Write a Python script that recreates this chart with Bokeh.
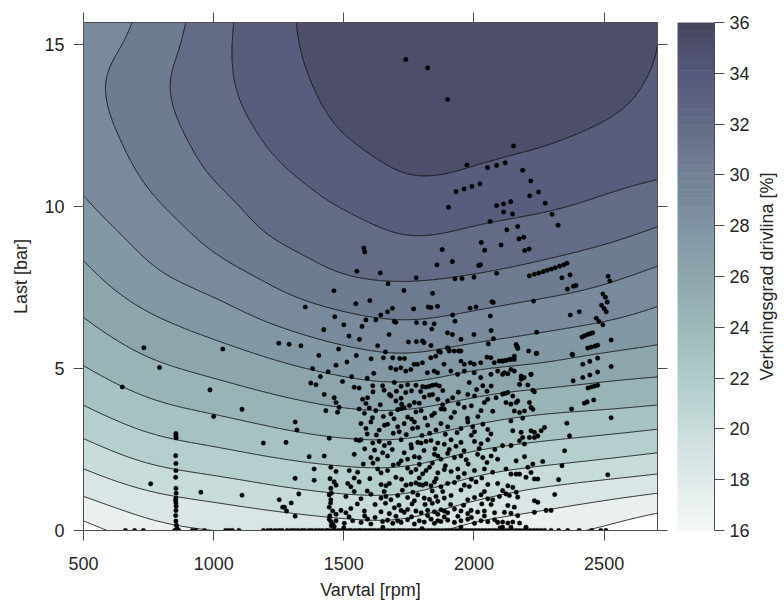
import numpy as np
from bokeh.plotting import figure
from bokeh.layouts import row
from bokeh.models import LinearAxis, FixedTicker, Range1d
from bokeh.core.properties import value
from bokeh.embed import file_html
from bokeh.resources import INLINE

FONT = "Liberation Sans"
INK = "#262626"
AXIS = "#4d4d4d"

# ---------------------------------------------------------------------------
# Driveline efficiency map [%] on a node table (speed x load)
# ---------------------------------------------------------------------------
rpm_nodes = [500, 750, 1000, 1250, 1500, 1750, 2000, 2250, 2500, 2750]
load_nodes = [0, 1, 2, 3, 4, 5, 6, 7, 8, 9, 10, 11, 12, 13, 14, 15, 16]

# one list per speed node, load 0 ... 16 bar
eff_500 = [16.4, 18.4, 20.16, 21.75, 23.18, 24.4, 25.44, 26.39, 27.24, 28.03, 28.78, 29.35, 29.7, 29.95, 30.0, 29.8, 29.6]
eff_750 = [17.88, 19.6, 21.38, 22.97, 24.37, 25.6, 26.72, 27.77, 28.75, 29.51, 30.19, 30.72, 31.1, 31.4, 31.45, 31.1, 30.8]
eff_1000 = [18.5, 20.23, 22.03, 23.63, 25.08, 26.38, 27.62, 28.77, 29.92, 30.83, 31.48, 32.1, 32.55, 32.9, 33.05, 33.0, 32.85]
eff_1250 = [18.84, 20.81, 22.61, 24.26, 25.76, 27.18, 28.58, 29.95, 31.12, 32.07, 32.72, 33.28, 33.78, 34.15, 34.42, 34.58, 34.65]
eff_1500 = [19.23, 21.26, 23.03, 24.75, 26.33, 27.89, 29.43, 30.83, 32.08, 32.83, 33.57, 34.22, 34.87, 35.3, 35.55, 35.7, 35.75]
eff_1750 = [19.2, 21.2, 23.0, 24.75, 26.44, 28.21, 29.79, 31.15, 32.36, 33.4, 34.21, 35.0, 35.5, 35.8, 36.0, 36.05, 36.05]
eff_2000 = [17.92, 20.2, 22.16, 24.03, 25.82, 27.62, 29.35, 30.8, 32.1, 33.14, 34.03, 34.84, 35.35, 35.65, 35.85, 35.95, 36.0]
eff_2250 = [17.4, 19.31, 21.54, 23.47, 25.29, 27.2, 28.85, 30.3, 31.63, 32.72, 33.69, 34.46, 35.1, 35.45, 35.65, 35.75, 35.75]
eff_2500 = [16.75, 18.67, 21.04, 23.1, 24.99, 26.69, 28.33, 29.75, 31.0, 32.2, 33.2, 33.98, 34.66, 35.15, 35.4, 35.55, 35.6]
eff_2750 = [15.5, 18.0, 20.52, 22.66, 24.68, 26.36, 27.76, 28.94, 30.14, 31.41, 32.57, 33.56, 34.1, 34.5, 34.75, 34.85, 34.85]
eff_columns = [eff_500, eff_750, eff_1000, eff_1250, eff_1500,
               eff_1750, eff_2000, eff_2250, eff_2500, eff_2750]

contour_levels = [17.0, 18.5, 20.0, 21.5, 23.0, 24.5, 26.0, 27.5, 29.0, 30.5, 32.0, 33.5, 35.0]

# colour scale of the efficiency axis
cmap_values = [16, 18, 20, 22, 24, 26, 28, 30, 32, 34, 36]
cmap_hex = ["#f3f7f7", "#e0eaea", "#c8dcdb", "#aecbca", "#9db9ba", "#8da5ad",
            "#8093a2", "#728196", "#636b87", "#55587a", "#45445f"]

x_ticks = [500, 1000, 1500, 2000, 2500]
y_ticks = [0, 5, 10, 15]
cb_ticks = [16, 18, 20, 22, 24, 26, 28, 30, 32, 34, 36]
cb_title = "Verkningsgrad drivlina [%]"

# ---------------------------------------------------------------------------
# Logged operating points (speed [rpm], load [bar])
# ---------------------------------------------------------------------------
idle_rpm = [855, 855, 856, 854, 855, 855, 854, 855, 856, 855, 854, 855, 856, 855, 854, 855, 857, 860]
idle_load = [2.99, 2.92, 2.86, 2.31, 2.07, 1.85, 1.64, 1.3, 1.15, 1.0, 0.93, 0.85, 0.75, 0.62, 0.46, 0.29, 0.16, 0.05]

motoring_rpm = [661, 696, 730, 850, 858, 866, 918, 931, 965, 1046, 1059, 1072, 1097, 1191, 1208, 1220,
                1236, 1251, 1263, 1282, 1297, 1310, 1324, 1339, 1350, 1366, 1377, 1392, 1405, 1418, 1433,
                1441, 1455, 1466, 1480, 1492, 1505, 1519, 1528, 1543, 1556, 1567, 1581, 1594, 1606, 1619,
                1633, 1645, 1656, 1670, 1684, 1695, 1709, 1720, 1733, 1747, 1760, 1772, 1786, 1798, 1811,
                1825, 1838, 1850, 1863, 1877, 1890, 1902, 1915, 1929, 1941, 1954, 1968, 1980, 1993, 2006,
                2019, 2032, 2045, 2058, 2071, 2083, 2097, 2110, 2124, 2137, 2150, 2163, 2176, 2190, 2203,
                2217, 2231, 2244, 2258, 2272, 2296, 2325, 2360, 2404, 2452, 2487, 2507]
motoring_load = [0.0] * len(motoring_rpm)

pts_left = [(649, 4.43), (732, 5.64), (792, 5.03), (986, 4.34), (1000, 3.52), (1035, 5.6), (1109, 3.74),
            (758, 1.44), (951, 1.18), (1109, 1.09), (1191, 2.7), (1278, 2.72), (1313, 3.35), (1320, 3.1),
            (1252, 0.95), (1265, 0.72), (1272, 0.72), (1280, 0.6), (1298, 0.85), (1313, 1.61), (1327, 1.13),
            (1313, 0.44), (1250, 5.78)]

pts_low = [
    (1373, 4.55), (1393, 4.5), (1495, 4.6), (1540, 4.42), (1559, 4.4), (1611, 4.47), (1649, 4.47), (1694, 4.57),
    (1720, 4.45), (1745, 4.5), (1777, 4.48), (1803, 4.44), (1816, 4.43), (1829, 4.45), (1841, 4.48), (1854, 4.5),
    (1867, 4.46), (1982, 4.57), (2034, 4.47), (2066, 4.46),
    (1425, 4.2), (1463, 4.1), (1470, 3.95), (1572, 4.05), (1591, 4.1), (1675, 4.2), (1681, 4.15), (1700, 4.0),
    (1720, 4.08), (1771, 3.95), (1809, 4.12), (1829, 4.18), (1841, 4.2), (1861, 4.05), (1899, 4.0), (1918, 4.1),
    (1976, 4.2), (2002, 4.15), (2053, 4.05), (2085, 4.1),
    (1431, 3.7), (1476, 3.65), (1482, 3.8), (1559, 3.75), (1579, 3.62), (1598, 3.78), (1623, 3.7), (1681, 3.6),
    (1707, 3.73), (1720, 3.76), (1732, 3.79), (1777, 3.66), (1797, 3.7), (1848, 3.62), (1873, 3.75), (1886, 3.74),
    (1925, 3.65), (1963, 3.8), (2027, 3.7), (2072, 3.68),
    (1566, 3.3), (1585, 3.15), (1604, 3.35), (1636, 3.1), (1656, 3.25), (1668, 3.28), (1707, 3.2), (1713, 3.05),
    (1732, 3.3), (1764, 3.15), (1771, 3.35), (1784, 3.18), (1822, 3.25), (1854, 3.1), (1873, 3.3), (1899, 3.2),
    (1950, 3.15), (1976, 3.35), (1995, 3.2), (2002, 3.05), (2034, 3.28), (2053, 3.12),
    (1444, 2.85), (1547, 2.8), (1559, 2.78), (1566, 2.8), (1611, 2.7), (1636, 2.75), (1656, 2.62), (1675, 2.7),
    (1720, 2.8), (1758, 2.65), (1784, 2.72), (1797, 2.7), (1816, 2.75), (1835, 2.78), (1861, 2.7), (1886, 2.66),
    (1912, 2.8), (1931, 2.6), (1950, 2.72), (2002, 2.75), (2027, 2.68), (2053, 2.8),
    (1367, 2.28), (1425, 2.3), (1540, 2.35), (1604, 2.25), (1630, 2.2), (1649, 2.4), (1668, 2.3), (1720, 2.15),
    (1732, 2.4), (1745, 2.2), (1771, 2.28), (1790, 2.25), (1848, 2.35), (1861, 2.3), (1873, 2.2), (1899, 2.38),
    (1925, 2.25), (1950, 2.3), (1970, 2.18), (2014, 2.35), (2034, 2.25), (2066, 2.3), (2091, 2.2),
    (1386, 1.9), (1450, 1.95), (1470, 1.82), (1521, 1.85), (1553, 1.8), (1630, 1.9), (1643, 1.78), (1668, 1.85),
    (1745, 1.92), (1758, 1.8), (1777, 1.88), (1803, 1.75), (1816, 1.85), (1829, 1.95), (1861, 1.78), (1886, 1.88),
    (1912, 1.82), (1938, 1.9), (1963, 1.76), (2002, 1.85), (2040, 1.9), (2072, 1.8),
    (1386, 1.55), (1463, 1.5), (1470, 1.4), (1515, 1.45), (1527, 1.35), (1559, 1.5), (1643, 1.42), (1662, 1.38),
    (1675, 1.45), (1739, 1.4), (1758, 1.43), (1777, 1.47), (1790, 1.42), (1803, 1.4), (1816, 1.44), (1835, 1.38),
    (1848, 1.5), (1873, 1.35), (1899, 1.45), (1925, 1.48), (1963, 1.4), (1982, 1.36), (2008, 1.5), (2053, 1.42),
    (2091, 1.45),
    (1444, 1.1), (1450, 0.95), (1508, 1.05), (1566, 0.98), (1604, 1.12), (1643, 1.0), (1662, 1.05), (1681, 0.95),
    (1707, 1.08), (1745, 1.02), (1771, 0.92), (1784, 1.1), (1809, 1.0), (1829, 0.96), (1854, 1.05), (1861, 0.9),
    (1886, 1.0), (1912, 1.08), (1976, 0.95), (2002, 1.02), (2027, 1.1), (2053, 0.98), (2072, 0.95), (2098, 1.05),
    (1444, 0.72), (1457, 0.6), (1470, 0.5), (1489, 0.62), (1508, 0.55), (1527, 0.68), (1579, 0.6), (1643, 0.58),
    (1675, 0.52), (1694, 0.7), (1720, 0.62), (1732, 0.56), (1745, 0.65), (1777, 0.6), (1797, 0.55), (1822, 0.62),
    (1848, 0.58), (1861, 0.5), (1873, 0.64), (1886, 0.6), (1899, 0.55), (1925, 0.66), (1950, 0.6), (1976, 0.52),
    (1989, 0.62), (2014, 0.57), (2040, 0.6), (2079, 0.55),
    (1444, 0.35), (1450, 0.28), (1457, 0.2), (1463, 0.12), (1470, 0.3), (1502, 0.22), (1534, 0.3), (1566, 0.25),
    (1591, 0.35), (1604, 0.2), (1649, 0.28), (1668, 0.32), (1688, 0.22), (1707, 0.3), (1720, 0.25), (1745, 0.33),
    (1771, 0.2), (1790, 0.3), (1809, 0.26), (1835, 0.35), (1848, 0.22), (1861, 0.3), (1873, 0.28), (1899, 0.32),
    (1925, 0.25), (1950, 0.3), (1976, 0.35), (2002, 0.22), (2027, 0.3), (2053, 0.27), (2079, 0.33), (2091, 0.25),
    (1447, 1.6), (1450, 1.3), (1452, 1.15), (1449, 0.85), (1446, 0.45), (1452, 0.15),
    (1500, 0.08), (1650, 0.1), (1800, 0.06), (1950, 0.1), (2100, 0.08), (2200, 0.1)]

# second pass through the densest part of the cloud
pts_dense = [
    (1612, 4.28), (1655, 4.33), (1702, 4.3), (1738, 4.26), (1760, 4.31), (1795, 4.29), (1880, 4.32), (1940, 4.27),
    (2010, 4.35), (2050, 4.3), (1585, 3.92), (1640, 3.88), (1722, 3.9), (1752, 3.86), (1790, 3.93), (1880, 3.88),
    (1940, 3.91), (1990, 3.85), (2040, 3.95), (1610, 3.48), (1652, 3.52), (1693, 3.45), (1745, 3.5), (1760, 3.44),
    (1812, 3.47), (1838, 3.55), (1912, 3.49), (1975, 3.46), (2015, 3.52), (1590, 2.98), (1625, 2.95), (1690, 3.0),
    (1740, 2.96), (1800, 2.93), (1830, 3.0), (1890, 2.97), (1935, 3.02), (1990, 2.94), (2065, 2.98), (1580, 2.52),
    (1618, 2.48), (1686, 2.5), (1760, 2.55), (1808, 2.47), (1850, 2.52), (1905, 2.5), (1962, 2.46), (2020, 2.53),
    (2080, 2.5), (1575, 2.05), (1612, 2.08), (1690, 2.02), (1710, 2.06), (1790, 2.04), (1840, 2.08), (1890, 2.0),
    (1978, 2.05), (2050, 2.1), (1540, 1.62), (1600, 1.6), (1700, 1.64), (1722, 1.58), (1790, 1.62), (1855, 1.6),
    (1940, 1.64), (1990, 1.58), (2030, 1.62), (1540, 1.2), (1590, 1.22), (1655, 1.2), (1725, 1.24), (1765, 1.18),
    (1840, 1.22), (1880, 1.2), (1950, 1.25), (2040, 1.2), (1552, 0.82), (1620, 0.8), (1660, 0.84), (1712, 0.78),
    (1762, 0.82), (1812, 0.8), (1840, 0.84), (1910, 0.8), (1960, 0.78), (2030, 0.82), (2066, 0.8), (1520, 0.42),
    (1580, 0.45), (1620, 0.4), (1700, 0.44), (1760, 0.42), (1822, 0.46), (1886, 0.42), (1938, 0.44), (1990, 0.4),
    (2040, 0.45)]

pts_upper_band = [
    (2162, 5.74), (2168, 5.64), (2155, 5.38), (2142, 5.28), (2123, 5.25), (2110, 5.23), (2239, 5.46),
    (2110, 4.82), (2130, 4.84), (2155, 4.92), (2187, 4.72), (2181, 4.67), (2219, 4.82), (2175, 4.51),
    (2207, 4.49), (2226, 4.33), (2232, 4.28), (2130, 4.26), (2119, 4.23), (2110, 4.21), (2149, 4.15),
    (2168, 4.0), (2123, 3.95), (2142, 3.9), (2162, 3.95), (2213, 3.95), (2155, 3.69), (2175, 3.64),
    (2194, 3.69), (2219, 3.8), (2226, 3.74), (2142, 3.38), (2187, 3.47), (2149, 3.08), (2181, 3.03),
    (2219, 3.08), (2232, 3.03), (2258, 3.08), (2271, 3.18), (2110, 2.62), (2142, 2.62), (2175, 2.77),
    (2187, 2.87), (2194, 2.67), (2213, 2.87), (2232, 2.87), (2245, 2.92), (2162, 2.15), (2194, 2.28),
    (2207, 1.95), (2226, 2.05), (2264, 2.13), (2123, 1.9), (2142, 1.74), (2162, 1.74), (2175, 1.74),
    (2200, 1.64), (2219, 1.79), (2232, 1.59), (2245, 1.59), (2130, 1.38), (2149, 1.33), (2110, 1.23),
    (2123, 1.13), (2136, 1.08), (2162, 1.18), (2168, 1.03), (2232, 0.92), (2245, 0.87), (2277, 0.62),
    (2296, 0.62), (2130, 0.77), (2155, 0.72), (2117, 0.56), (2142, 0.53), (2232, 0.56), (2168, 0.46),
    (2110, 0.26), (2130, 0.23), (2149, 0.26), (2175, 0.23), (2110, 0.1), (2142, 0.1)]

pts_mid = [
    (2370, 6.65), (2405, 6.75), (1642, 6.65), (1668, 6.75), (1687, 6.86), (1768, 6.84), (1824, 6.9), (1835, 6.88),
    (1860, 6.92), (1985, 6.86), (2008, 6.9), (2069, 7.06), (2074, 7.04), (1694, 6.45), (1700, 6.43), (1779, 6.42),
    (1811, 6.4), (1847, 6.38), (1918, 6.65), (1927, 6.46), (2063, 6.62), (1674, 6.05), (1838, 6.22), (1898, 6.1),
    (1917, 6.05), (1950, 5.9), (2000, 6.05), (2066, 6.17), (2055, 5.76), (2075, 5.92), (2241, 6.12), (1748, 5.82),
    (1779, 5.83), (1802, 5.85), (1808, 5.8), (1835, 5.71), (1660, 5.51), (1865, 5.52), (1871, 5.5), (1904, 5.57),
    (1900, 5.62), (1941, 5.54), (1950, 5.54), (2164, 5.69), (2168, 5.62), (2241, 5.47), (2377, 5.44), (1652, 5.33),
    (1688, 5.33), (1715, 5.31), (1733, 5.31), (1770, 5.13), (1802, 5.18), (1834, 5.33), (1853, 5.38), (1866, 5.54),
    (1898, 5.64), (1905, 5.54), (1924, 5.54), (1943, 5.54), (1950, 5.23), (1963, 5.13), (1986, 5.18), (2001, 5.13),
    (2026, 5.18), (2050, 5.35), (2065, 5.33), (2078, 5.18), (2097, 5.23), (2110, 5.23), (2136, 5.28), (2155, 5.28),
    (2210, 5.54), (1680, 5.02), (1700, 4.97), (1719, 5.02), (1738, 4.92), (1757, 4.97), (1783, 5.13), (1821, 4.87),
    (1847, 4.92), (1860, 4.87), (1885, 5.13), (1911, 4.92), (1937, 4.82), (1963, 4.92), (2001, 4.87), (2026, 4.72),
    (2065, 4.82), (2091, 4.92), (2117, 4.87), (2142, 4.97), (2181, 4.77), (2193, 4.72), (2219, 4.82),
    (1290, 5.75), (1335, 5.7), (1352, 6.9), (1380, 5.0), (1404, 5.4), (1423, 6.2), (1440, 4.9), (1465, 6.6),
    (1480, 5.6), (1500, 6.35), (1512, 5.2), (1520, 6.0), (1530, 4.75), (1546, 7.0), (1560, 5.9), (1570, 6.3),
    (1585, 6.5), (1600, 7.1), (1605, 5.3), (1615, 4.85), (1623, 6.5), (1630, 5.7), (1590, 4.7), (1548, 5.4),
    (1470, 5.1), (1410, 4.75)]

pts_high = [
    (1738, 14.54), (1822, 14.28), (1899, 13.3), (2152, 11.87), (1973, 11.28), (2052, 11.2), (2087, 11.27),
    (2120, 11.35), (2187, 11.12), (2218, 10.79), (2248, 10.45), (2274, 10.1), (2300, 9.76), (2323, 9.42),
    (1931, 10.46), (1962, 10.54), (1992, 10.62), (2023, 10.7), (1902, 9.98), (2087, 10.03), (2114, 10.08),
    (2114, 9.83), (2141, 10.15), (2214, 10.33), (2148, 9.77), (2062, 9.54), (2126, 9.28), (2168, 9.38),
    (2173, 9.0), (2191, 9.05), (2195, 8.64), (2212, 8.69), (2028, 8.89), (2041, 8.65), (2104, 8.81),
    (1878, 8.67), (1858, 8.2), (1917, 8.3), (2018, 8.18), (2025, 8.2), (2087, 7.94), (1778, 7.8), (1927, 7.77),
    (1954, 7.78), (2000, 7.82), (1670, 7.62), (1731, 7.41), (1841, 7.32),
    (2213, 7.86), (2232, 7.91), (2249, 7.95), (2266, 7.99), (2281, 8.03), (2297, 8.07), (2312, 8.11),
    (2329, 8.16), (2345, 8.2), (2357, 8.25), (2338, 7.8), (2369, 7.89), (2359, 7.45), (2382, 7.54),
    (2392, 7.56), (2229, 7.08), (1577, 8.72), (1580, 8.6), (1550, 8.0), (1462, 7.4), (1640, 7.95)]

pts_right = [
    (2415, 5.97), (2425, 6.01), (2437, 6.05), (2447, 6.08), (2456, 6.1), (2527, 5.88), (2437, 5.63),
    (2450, 5.66), (2465, 5.69), (2475, 5.72), (2379, 5.42), (2418, 5.13), (2445, 5.22), (2475, 5.32),
    (2527, 5.06), (2381, 4.62), (2418, 4.72), (2445, 4.8), (2475, 4.89), (2438, 4.4), (2450, 4.43),
    (2462, 4.45), (2475, 4.48), (2375, 3.75), (2424, 3.93), (2435, 3.97), (2460, 4.03), (2527, 3.48),
    (2357, 3.31), (2367, 2.92), (2348, 2.46), (2338, 2.0), (2514, 1.72), (2325, 1.57), (2310, 1.11),
    (2515, 7.85), (2522, 7.7), (2495, 7.3), (2505, 7.2), (2512, 7.05), (2490, 6.95), (2500, 6.85),
    (2508, 6.75), (2470, 6.55), (2480, 6.45), (2495, 6.35)]


# ---------------------------------------------------------------------------
def hex_rgb(h):
    return [int(h[i:i + 2], 16) for i in (1, 3, 5)]


cmap_rgb = np.array([hex_rgb(h) for h in cmap_hex], dtype=float)


def cmap(v):
    r, g, b = (np.interp(v, cmap_values, cmap_rgb[:, k]) for k in range(3))
    return "#%02x%02x%02x" % (int(round(r)), int(round(g)), int(round(b)))


def spline_matrix(xn, xf):
    """Natural cubic spline weights: values at xf = W @ values at xn."""
    xn = np.asarray(xn, float)
    xf = np.asarray(xf, float)
    n = len(xn)
    h = np.diff(xn)
    A = np.zeros((n, n))
    B = np.zeros((n, n))
    A[0, 0] = A[-1, -1] = 1.0
    for i in range(1, n - 1):
        A[i, i - 1] = h[i - 1]
        A[i, i] = 2.0 * (h[i - 1] + h[i])
        A[i, i + 1] = h[i]
        B[i, i - 1] = 6.0 / h[i - 1]
        B[i, i] = -6.0 / h[i - 1] - 6.0 / h[i]
        B[i, i + 1] = 6.0 / h[i]
    M = np.linalg.solve(A, B)
    idx = np.clip(np.searchsorted(xn, xf) - 1, 0, n - 2)
    W = np.zeros((len(xf), n))
    for k, x in enumerate(xf):
        i = idx[k]
        hi = h[i]
        a = (xn[i + 1] - x) / hi
        b = (x - xn[i]) / hi
        W[k, i] += a
        W[k, i + 1] += b
        W[k] += ((a ** 3 - a) * M[i] + (b ** 3 - b) * M[i + 1]) * hi ** 2 / 6.0
    return W


X_MIN, X_MAX = 500, 2705
Y_MIN, Y_MAX = 0, 15.68

eff_nodes = np.array(eff_columns, dtype=float).T          # (load, rpm)
rpm_fine = np.linspace(X_MIN, X_MAX, 320)
load_fine = np.linspace(Y_MIN, Y_MAX, 240)
eff_fine = spline_matrix(load_nodes, load_fine) @ eff_nodes @ spline_matrix(rpm_nodes, rpm_fine).T

fill_levels = contour_levels + [40.0]
band_colors = [cmap(v) for v in contour_levels]

BORDER_TOP, BORDER_BOTTOM = 22, 73

# ---------------------------------------------------------------------------
# main map
p = figure(width=669, height=603, x_range=Range1d(X_MIN, X_MAX), y_range=Range1d(Y_MIN, Y_MAX),
           output_backend="svg", toolbar_location=None,
           min_border_left=83, min_border_right=12,
           min_border_top=BORDER_TOP, min_border_bottom=BORDER_BOTTOM,
           background_fill_color="white", border_fill_color="white", outline_line_color=None)
p.grid.visible = False

p.contour(x=rpm_fine, y=load_fine, z=eff_fine, levels=fill_levels,
          fill_color=band_colors, line_color="black", line_width=0.8)

groups = [pts_left, pts_low, pts_dense, pts_upper_band, pts_mid, pts_high, pts_right]
all_rpm = idle_rpm + motoring_rpm + [q[0] for g in groups for q in g]
all_load = idle_load + motoring_load + [q[1] for g in groups for q in g]
p.scatter(all_rpm, all_load, size=4.6, fill_color="black", line_color="black", line_width=0.3)


def style_axis(ax, ticks, show_labels=True):
    ax.ticker = FixedTicker(ticks=ticks)
    ax.axis_line_color = AXIS
    ax.major_tick_line_color = AXIS
    ax.minor_tick_line_color = None
    ax.major_tick_out = 10
    ax.major_tick_in = 0
    ax.major_label_text_font = FONT
    ax.major_label_text_color = INK
    ax.axis_label_text_font = FONT
    ax.axis_label_text_font_style = "normal"
    ax.axis_label_text_color = INK
    ax.axis_label_text_font_size = "18px"
    ax.major_label_text_font_size = "18px"
    if not show_labels:
        # box side: ticks only
        ax.major_label_overrides = {t: "" for t in ticks}
        ax.major_label_standoff = -21


style_axis(p.xaxis[0], x_ticks)
p.xaxis[0].axis_label = "Varvtal [rpm]"
p.xaxis[0].major_label_standoff = 16
p.xaxis[0].axis_label_standoff = 7

style_axis(p.yaxis[0], y_ticks)
p.yaxis[0].axis_label = "Last [bar]"
p.yaxis[0].major_label_standoff = 9
p.yaxis[0].axis_label_standoff = 10

top_axis = LinearAxis()
style_axis(top_axis, x_ticks, show_labels=False)
p.add_layout(top_axis, "above")
right_axis = LinearAxis()
style_axis(right_axis, y_ticks, show_labels=False)
p.add_layout(right_axis, "right")

# ---------------------------------------------------------------------------
# colour bar with its own efficiency axis
cb = figure(width=87, height=603, x_range=Range1d(0, 1), y_range=Range1d(16, 36),
            output_backend="svg", toolbar_location=None,
            x_axis_location=None, y_axis_location="right",
            min_border_left=8, min_border_right=42,
            min_border_top=BORDER_TOP, min_border_bottom=BORDER_BOTTOM,
            outline_line_color=None, background_fill_color="white", border_fill_color="white")
cb.grid.visible = False
edges = np.linspace(16, 36, 65)
seg_colors = [cmap(0.5 * (a + b)) for a, b in zip(edges[:-1], edges[1:])]
cb.quad(left=0, right=1, bottom=edges[:-1], top=edges[1:],
        fill_color=seg_colors, line_color=seg_colors, line_width=0.6)
style_axis(cb.yaxis[0], cb_ticks)
cb.yaxis[0].major_label_standoff = 5

# colour bar title, read upwards
tp = figure(width=28, height=603, x_range=Range1d(0, 28), y_range=Range1d(16, 36),
            output_backend="svg", toolbar_location=None,
            x_axis_location=None, y_axis_location=None,
            min_border_left=0, min_border_right=0,
            min_border_top=BORDER_TOP, min_border_bottom=BORDER_BOTTOM,
            outline_line_color=None, background_fill_color="white", border_fill_color="white")
tp.grid.visible = False
tp.text(x=[10], y=[26], text=[cb_title], angle=np.pi / 2,
        text_font=value(FONT), text_font_size=value("18px"), text_color=INK,
        text_align="center", text_baseline="middle")

layout = row(p, cb, tp)
open("out.html", "w").write(file_html(layout, INLINE))
